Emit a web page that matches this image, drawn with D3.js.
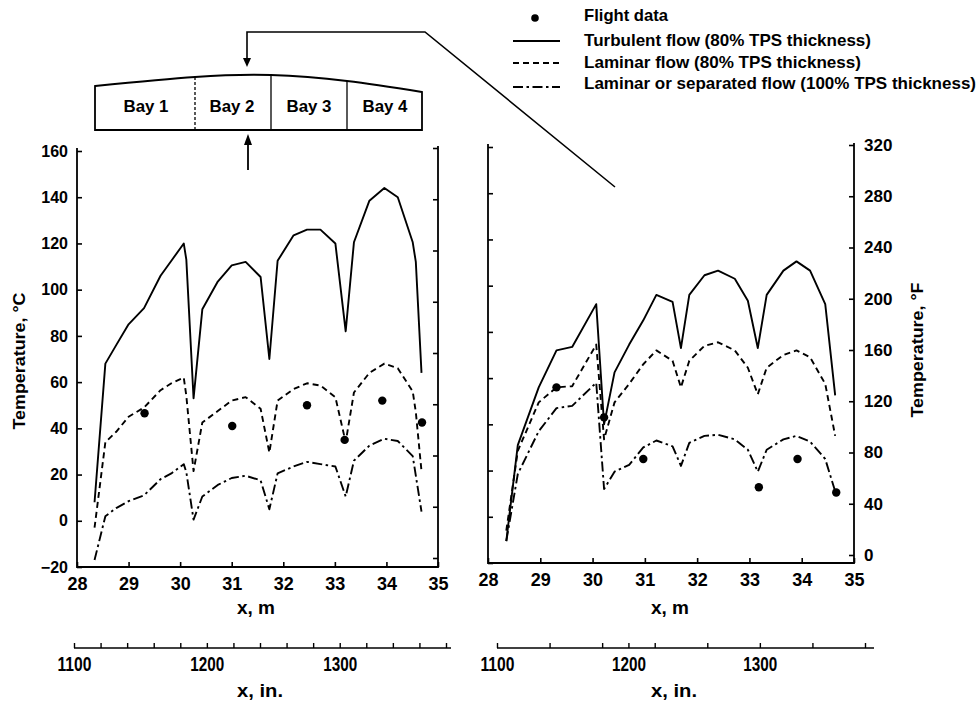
<!DOCTYPE html>
<html><head><meta charset="utf-8">
<script src="https://cdn.jsdelivr.net/npm/d3@7"></script>
<style>
body{margin:0;background:#fff}
svg text{font-family:"Liberation Sans",Arial,sans-serif;font-weight:bold;fill:#000}
</style>
</head><body>
<svg id="chart" width="980" height="704"></svg>
<script>
// ---------- DATA ----------
const seriesNames = ["Flight data","Turbulent flow (80% TPS thickness)","Laminar flow (80% TPS thickness)","Laminar or separated flow (100% TPS thickness)"];
const bayLabels = ["Bay 1","Bay 2","Bay 3","Bay 4"];
const xTicksM = [28,29,30,31,32,33,34,35];
const yTicksC = [-20,0,20,40,60,80,100,120,140,160];
const yTicksF = [0,40,80,120,160,200,240,280,320];
const inchLabels = [1100,1200,1300];

// Left panel (x in m, temperature in °C)
const leftX          = [28.34,28.55,28.76,29.0,29.3,29.62,29.83,30.07,30.12,30.26,30.43,30.73,31.0,31.27,31.56,31.73,31.89,32.2,32.46,32.72,33.01,33.21,33.37,33.67,33.96,34.22,34.51,34.57,34.68];
const leftTurbulent  = [8,68,76,85,92,106,112.5,120,113,53,91.5,103.5,110.5,112,105.5,70,112.5,123.5,126,126,120,82,120.5,138.5,144,140,120.5,112,64];
const leftLaminar    = [-3,34,38.5,45,49,56.5,59.5,62,54,21.5,42.5,47.5,52,53.5,48.5,29.5,52,57,59.5,58.5,53.5,34,55.5,64,68,66,56,47,21.5];
const leftSeparated  = [-17,2,5.5,8.5,11,18,20.5,24.5,21,0.5,10.5,15.5,18.5,19.5,17.5,5,20.5,23.5,25.5,24.5,23.5,10.5,26,32.5,35.5,34.5,28,19.5,4];
const leftFlightX    = [29.31,31.01,32.46,33.19,33.92,34.69];
const leftFlightY    = [46.5,41,50,35,52,42.5];

// Right panel
const rightX         = [28.35,28.57,28.97,29.31,29.61,30.07,30.22,30.42,30.7,30.97,31.22,31.53,31.69,31.85,32.14,32.4,32.72,32.97,33.16,33.33,33.65,33.9,34.16,34.45,34.64];
const rightTurbulent = [-10.5,31,56,72,73.5,92,40,62.5,74.5,85,96,93,73,96,104.5,106.5,103,93.5,73,96,106.5,110.5,106.5,92,52.5];
const rightLaminar   = [-6,28.5,49.5,56,56.5,74.5,33.5,49.5,57.5,66,72,67.5,56,67.5,74,75.5,72,64.5,53,64.5,70,72,69,57.5,35];
const rightSeparated = [-10.5,18.5,37,47,48,58,12,19.5,22.5,30,33,30.5,22,32,35,35.5,33.5,29,19.5,29,33.5,35,32.5,25,11];
const rightFlightX   = [29.31,30.22,30.97,33.18,33.92,34.66];
const rightFlightY   = [56,43,25,12.8,25,10.5];

// ---------- DRAW ----------
const svg = d3.select("#chart");
const dashStyles = [null, "6,4", "10,3.5,2.5,3.5"];
function fit(sel, w){ sel.attr("textLength", w).attr("lengthAdjust","spacingAndGlyphs"); return sel; }

const panels = [
  {x0:77, x1:438, yb:567, yt:151, fb:558, ft:148, X:leftX, S:[leftTurbulent,leftLaminar,leftSeparated], FX:leftFlightX, FY:leftFlightY,
   labelC:true, labelF:false, inch:[74,446], inchTicks:d3.range(1100,1381,20), inchEnd:451, xmLabel:256},
  {x0:488, x1:854, yb:563, yt:147, fb:555, ft:145, X:rightX, S:[rightTurbulent,rightLaminar,rightSeparated], FX:rightFlightX, FY:rightFlightY,
   labelC:false, labelF:true, inch:[497,865], inchTicks:[...new Set(d3.range(1100,1381,40).concat(inchLabels))].sort((a,b)=>a-b), inchEnd:874, xmLabel:670}
];

panels.forEach(p => {
  const x = d3.scaleLinear().domain([28,35]).range([p.x0,p.x1]);
  const yC = d3.scaleLinear().domain([-20,160]).range([p.yb,p.yt]);
  const yF = d3.scaleLinear().domain([0,320]).range([p.fb,p.ft]);
  const g = svg.append("g");

  g.append("path").attr("d",`M${p.x0},${p.yt-3}V${p.yb}H${p.x1}V${p.ft-2}`)
    .attr("fill","none").attr("stroke","#000").attr("stroke-width",1.8);

  const ax = g.append("g").attr("transform",`translate(${p.x0},0)`)
    .call(d3.axisLeft(yC).tickValues(yTicksC).tickSize(-5).tickSizeOuter(0).tickPadding(9)
      .tickFormat(p.labelC ? d3.format("d") : ""));
  const axr = g.append("g").attr("transform",`translate(${p.x1},0)`)
    .call(d3.axisRight(yF).tickValues(yTicksF).tickSize(-5).tickSizeOuter(0).tickPadding(10)
      .tickFormat(p.labelF ? d3.format("d") : ""));
  const axb = g.append("g").attr("transform",`translate(0,${p.yb})`)
    .call(d3.axisBottom(x).tickValues(xTicksM).tickSize(-5).tickSizeOuter(0).tickPadding(10).tickFormat(d3.format("d")));
  [ax,axr,axb].forEach(a=>{
    a.select(".domain").remove();
    a.selectAll("line").attr("stroke","#000").attr("stroke-width",1.6);
    a.selectAll("text").attr("font-family",null).attr("fill","#000");
  });
  ax.selectAll("text").style("font-size","16px");
  axr.selectAll("text").style("font-size","17px");
  axb.selectAll("text").style("font-size","18px");

  p.S.forEach((vals,i)=>{
    const pts = p.X.map((xv,k)=>[xv,vals[k]]);
    g.append("path").datum(pts)
      .attr("d", d3.line().x(d=>x(d[0])).y(d=>yC(d[1])))
      .attr("fill","none").attr("stroke","#000").attr("stroke-width",1.9)
      .attr("stroke-linejoin","round")
      .attr("stroke-dasharray", dashStyles[i]);
  });
  g.selectAll("circle.f").data(p.FX.map((xv,k)=>[xv,p.FY[k]])).join("circle")
    .attr("cx",d=>x(d[0])).attr("cy",d=>yC(d[1])).attr("r",4.2).attr("fill","#000");

  fit(g.append("text").attr("x",p.xmLabel).attr("y",614).attr("text-anchor","middle")
    .style("font-size","18px").text("x, m"), 38);

  const xi = d3.scaleLinear().domain([1100,1380]).range(p.inch);
  const ai = g.append("g").attr("transform","translate(0,648)")
    .call(d3.axisBottom(xi).tickValues(p.inchTicks).tickSize(-5).tickSizeOuter(0).tickPadding(9)
      .tickFormat(d=> inchLabels.includes(d) ? d : ""));
  ai.select(".domain").remove();
  ai.selectAll("line").attr("stroke","#000").attr("stroke-width",1.4);
  ai.selectAll("text").style("font-size","20px").attr("font-family",null).attr("fill","#000");
  ai.selectAll("text").filter(d=>inchLabels.includes(d)).attr("textLength",34).attr("lengthAdjust","spacingAndGlyphs");
  g.append("line").attr("x1",p.inch[0]).attr("x2",p.inchEnd).attr("y1",648).attr("y2",648)
    .attr("stroke","#000").attr("stroke-width",1.6);
  fit(g.append("text").attr("x",p.xmLabel+4).attr("y",697).attr("text-anchor","middle")
    .style("font-size","19px").text("x, in."), 46);
});

// axis titles
fit(svg.append("text").attr("transform","translate(25,361) rotate(-90)").attr("text-anchor","middle")
  .style("font-size","17px").text("Temperature, °C"), 137);
fit(svg.append("text").attr("transform","translate(923,350) rotate(-90)").attr("text-anchor","middle")
  .style("font-size","17px").text("Temperature, °F"), 135);

// ---------- Bay diagram ----------
const topPts = [[95,86],[195,77],[271,75],[347,81],[422,92]];
const arc = d3.line().curve(d3.curveNatural)(topPts);
svg.append("path").attr("d", arc + "L422,130L95,130Z")
  .attr("fill","none").attr("stroke","#000").attr("stroke-width",1.8);
[[195,77,"3,2"],[271,75,null],[347,81,null]].forEach(([dx,dy,dash])=>{
  svg.append("line").attr("x1",dx).attr("x2",dx).attr("y1",dy).attr("y2",130)
    .attr("stroke","#000").attr("stroke-width",1.3).attr("stroke-dasharray",dash);
});
const bayX = [146,232,309,385];
svg.selectAll("text.bay").data(bayLabels).join("text")
  .attr("x",(d,i)=>bayX[i]).attr("y",112).attr("text-anchor","middle")
  .style("font-size","16px").attr("textLength",45).attr("lengthAdjust","spacingAndGlyphs").text(d=>d);

// arrows & leader
svg.append("path").attr("d","M615,187L425,32H247V60").attr("fill","none").attr("stroke","#000").attr("stroke-width",1.6);
svg.append("path").attr("d","M243,58L247,67L251,58Z").attr("fill","#000");
svg.append("path").attr("d","M248,170V142").attr("fill","none").attr("stroke","#000").attr("stroke-width",1.8);
svg.append("path").attr("d","M244,145L248,134L252,145Z").attr("fill","#000");

// ---------- Legend ----------
const legY = [18,41,63,87];
const legTextY = [21,46,68,89];
const legW = [84,287,277,392];
svg.append("circle").attr("cx",535).attr("cy",legY[0]).attr("r",3.8).attr("fill","#000");
[1,2,3].forEach(i=>{
  svg.append("line").attr("x1",513).attr("x2",560).attr("y1",legY[i]).attr("y2",legY[i])
    .attr("stroke","#000").attr("stroke-width",1.8).attr("stroke-dasharray",dashStyles[i-1]);
});
svg.selectAll("text.leg").data(seriesNames).join("text")
  .attr("x",584).attr("y",(d,i)=>legTextY[i]).style("font-size","17px")
  .attr("textLength",(d,i)=>legW[i]).attr("lengthAdjust","spacingAndGlyphs").text(d=>d);
</script>
</body></html>
